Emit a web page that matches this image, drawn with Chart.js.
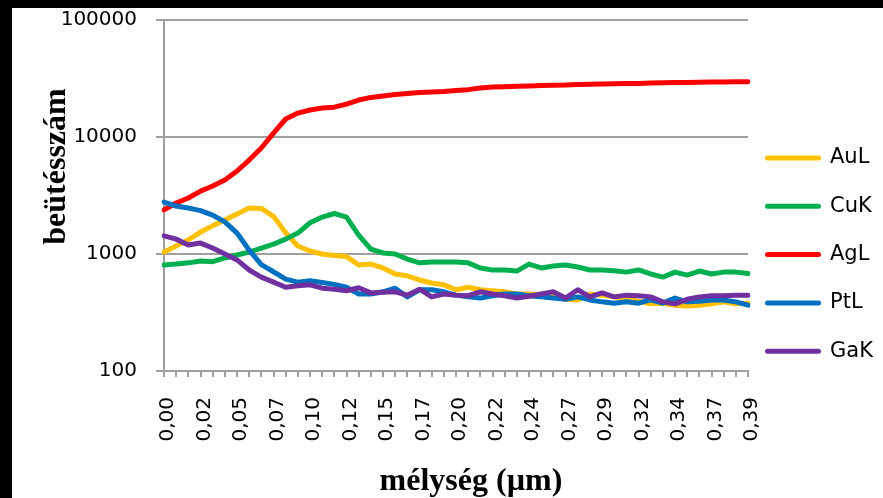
<!DOCTYPE html>
<html>
<head>
<meta charset="utf-8">
<script src="https://cdn.jsdelivr.net/npm/chart.js@4.4.1/dist/chart.umd.min.js"></script>
<style>
    html, body { margin: 0; padding: 0; background: #000; width: 883px; height: 498px; overflow: hidden; }
    #frame { position: absolute; left: 12px; top: 8px; width: 871px; height: 490px; background: #fff; }
</style>
</head>
<body>
<div id="frame"><canvas id="depthChart" width="871" height="490"></canvas></div>
<script>
// Depth categories (µm)
const depthLabels = [
    '0,00','0,01','0,02','0,02','0,03','0,04','0,05','0,06','0,07','0,07',
    '0,08','0,09','0,10','0,11','0,11','0,12','0,13','0,14','0,15','0,15',
    '0,16','0,17','0,18','0,19','0,20','0,20','0,21','0,22','0,23','0,24',
    '0,24','0,25','0,26','0,27','0,28','0,28','0,29','0,30','0,31','0,32',
    '0,33','0,33','0,34','0,35','0,36','0,37','0,37','0,38','0,39'
];

// Count values per element line
const auL = [1040,1170,1320,1540,1740,1950,2200,2470,2450,2100,1520,1170,1060,1000,970,950,805,820,760,675,
    650,600,565,545,495,520,495,485,475,455,455,450,445,410,405,455,445,430,410,395,
    375,380,365,360,365,375,390,375,380];
const cuK = [805,820,840,870,860,925,980,1040,1125,1215,1340,1510,1850,2070,2220,2070,1450,1100,1020,1000,
    905,840,855,855,855,840,760,730,730,715,820,760,790,805,775,730,730,720,700,730,
    675,635,700,660,715,675,700,700,680];
const agL = [2380,2730,3010,3450,3810,4290,5120,6350,8050,10800,14250,16000,17000,17700,18000,19100,20700,21800,22400,23100,
    23500,24000,24200,24500,25000,25400,26200,26700,26900,27100,27300,27600,27700,27800,28100,28200,28400,28500,28600,28700,
    29000,29100,29200,29300,29400,29500,29500,29600,29700];
const ptL = [2780,2570,2470,2350,2150,1880,1510,1080,810,705,610,575,590,570,550,520,455,455,475,510,
    430,495,495,475,445,430,420,440,455,455,440,430,420,410,430,405,390,380,390,380,
    405,380,420,390,395,405,405,390,365];
const gaK = [1430,1340,1195,1240,1125,1000,890,730,635,575,520,535,545,510,500,485,515,465,470,475,
    445,500,430,455,445,440,475,455,440,420,435,455,475,420,495,430,465,430,445,440,
    430,390,375,410,430,440,440,445,445];

const seriesNames = ['AuL', 'CuK', 'AgL', 'PtL', 'GaK'];
const seriesColors = ['#FFC000', '#00B050', '#FF0000', '#0070C0', '#7030A0'];
const yTicks = [100, 1000, 10000, 100000];

const GRID = '#a0a0a0';
const TICK_FONT = { family: 'DejaVu Sans', size: 20 };

// Legend + axis titles drawn by hand (Excel-style placement)
const decorPlugin = {
    id: 'decor',
    afterDraw(chart) {
        const ctx = chart.ctx;
        ctx.save();

        // legend
        ctx.font = '21px "DejaVu Sans"';
        ctx.textBaseline = 'middle';
        ctx.lineCap = 'round';
        ctx.lineWidth = 5;
        chart.data.datasets.forEach((ds, i) => {
            const y = 150 + i * 48.3;
            ctx.strokeStyle = ds.borderColor;
            ctx.beginPath();
            ctx.moveTo(755.5, y);
            ctx.lineTo(806.5, y);
            ctx.stroke();
            ctx.fillStyle = '#000';
            ctx.fillText(ds.label, 818, y);
        });

        // axis titles
        ctx.font = 'bold 32px "Liberation Serif"';
        ctx.textAlign = 'center';
        ctx.textBaseline = 'alphabetic';
        ctx.fillText('mélység (µm)', 459, 482);

        ctx.translate(53, 158.5);
        ctx.rotate(-Math.PI / 2);
        ctx.fillText('beütésszám', 0, 0);
        ctx.restore();
    }
};

const datasets = [auL, cuK, agL, ptL, gaK].map((values, i) => ({
    label: seriesNames[i],
    data: values,
    borderColor: seriesColors[i],
    backgroundColor: seriesColors[i],
    borderWidth: 5,
    borderCapStyle: 'round',
    borderJoinStyle: 'round',
    pointRadius: 0,
    tension: 0,
    fill: false,
    order: 5 - i   // later series drawn on top, like Excel
}));

new Chart(document.getElementById('depthChart').getContext('2d'), {
    type: 'line',
    data: { labels: depthLabels, datasets: datasets },
    plugins: [decorPlugin],
    options: {
        responsive: false,
        animation: false,
        devicePixelRatio: 1,
        layout: { padding: { top: 12, right: 135, bottom: 0, left: 0 } },
        plugins: {
            legend: { display: false },
            tooltip: { enabled: false }
        },
        scales: {
            x: {
                type: 'category',
                offset: false,
                afterFit: s => { s.height = 127; },
                grid: { drawOnChartArea: false, color: GRID, lineWidth: 2, tickLength: 6 },
                border: { color: GRID, width: 2 },
                ticks: {
                    autoSkip: false,
                    minRotation: 90,
                    maxRotation: 90,
                    padding: 20,
                    labelOffset: 4,
                    color: '#000',
                    font: TICK_FONT,
                    callback(v, i) { return i % 3 === 0 ? this.getLabelForValue(v) : ''; }
                }
            },
            y: {
                type: 'logarithmic',
                min: 100,
                max: 100000,
                afterBuildTicks: s => { s.ticks = yTicks.map(v => ({ value: v })); },
                afterFit: s => {
                    s.width = 152;
                    // keep the plot area where Excel had it
                    s.paddingTop = 0;
                    s.paddingBottom = 0;
                },
                grid: { color: GRID, lineWidth: 2, tickLength: 8 },
                border: { color: GRID, width: 2 },
                ticks: {
                    padding: 19,
                    color: '#000',
                    font: TICK_FONT,
                    callback: v => String(v)
                }
            }
        }
    }
});
</script>
</body>
</html>
